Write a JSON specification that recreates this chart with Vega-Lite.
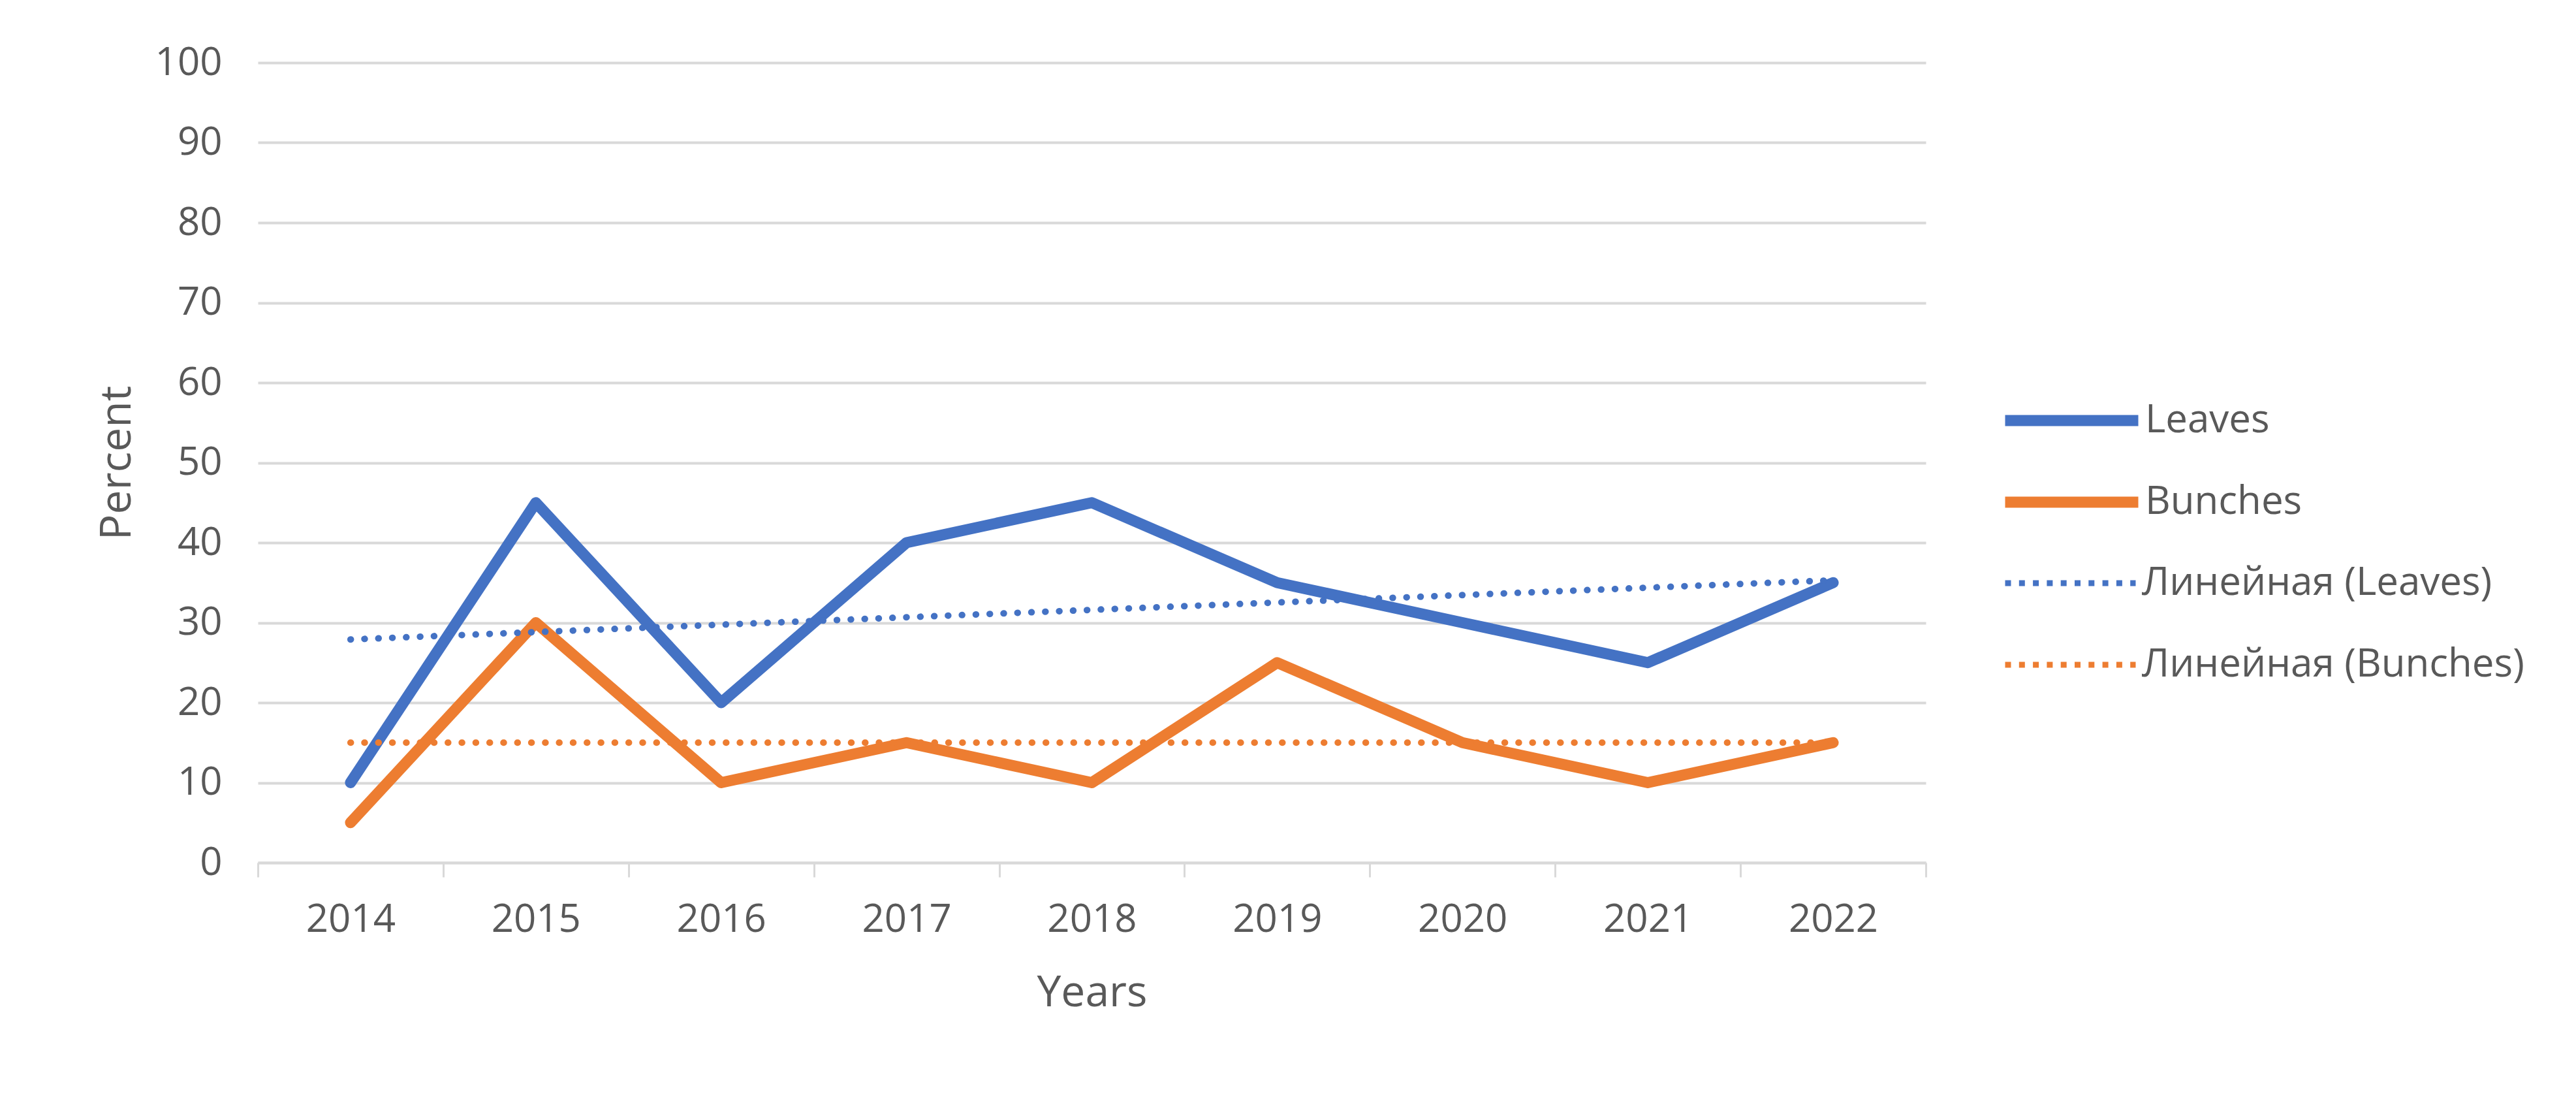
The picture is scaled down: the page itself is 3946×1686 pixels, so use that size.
{
  "$schema": "https://vega.github.io/schema/vega-lite/v6.json",
  "width": 2555,
  "height": 1225,
  "autosize": {"type": "none"},
  "padding": {"left": 395, "top": 96, "right": 996, "bottom": 365},
  "background": "white",
  "datasets": {
    "observed": [
      {"year": 2014, "series": "Leaves", "value": 10},
      {"year": 2015, "series": "Leaves", "value": 45},
      {"year": 2016, "series": "Leaves", "value": 20},
      {"year": 2017, "series": "Leaves", "value": 40},
      {"year": 2018, "series": "Leaves", "value": 45},
      {"year": 2019, "series": "Leaves", "value": 35},
      {"year": 2020, "series": "Leaves", "value": 30},
      {"year": 2021, "series": "Leaves", "value": 25},
      {"year": 2022, "series": "Leaves", "value": 35},
      {"year": 2014, "series": "Bunches", "value": 5},
      {"year": 2015, "series": "Bunches", "value": 30},
      {"year": 2016, "series": "Bunches", "value": 10},
      {"year": 2017, "series": "Bunches", "value": 15},
      {"year": 2018, "series": "Bunches", "value": 10},
      {"year": 2019, "series": "Bunches", "value": 25},
      {"year": 2020, "series": "Bunches", "value": 15},
      {"year": 2021, "series": "Bunches", "value": 10},
      {"year": 2022, "series": "Bunches", "value": 15}
    ],
    "trend": [
      {"year": 2014, "series": "Линейная (Leaves)", "value": 27.9},
      {"year": 2022, "series": "Линейная (Leaves)", "value": 35.3},
      {"year": 2014, "series": "Линейная (Bunches)", "value": 15},
      {"year": 2022, "series": "Линейная (Bunches)", "value": 15}
    ]
  },
  "encoding": {
    "x": {
      "field": "year",
      "type": "quantitative",
      "scale": {"domain": [2013.5, 2022.5], "nice": false, "zero": false},
      "axis": {
        "title": "Years",
        "values": [2013.5, 2014.5, 2015.5, 2016.5, 2017.5, 2018.5, 2019.5, 2020.5, 2021.5, 2022.5],
        "labelExpr": "datum.value > 2022 ? '' : format(datum.value + 0.5, 'd')",
        "labelOffset": 141.9,
        "labelFlush": false,
        "labelOverlap": false,
        "grid": false,
        "tickSize": 22,
        "tickWidth": 3,
        "tickColor": "#D9D9D9",
        "domainColor": "#D9D9D9",
        "domainWidth": 4,
        "labelPadding": 36,
        "titlePadding": 50
      }
    },
    "y": {
      "field": "value",
      "type": "quantitative",
      "scale": {"domain": [0, 100], "nice": false},
      "axis": {
        "title": "Percent",
        "values": [0, 10, 20, 30, 40, 50, 60, 70, 80, 90, 100],
        "grid": true,
        "gridColor": "#D9D9D9",
        "gridWidth": 4,
        "domain": false,
        "ticks": false,
        "labelPadding": 55,
        "titlePadding": 24
      }
    }
  },
  "layer": [
    {
      "data": {"name": "observed"},
      "mark": {"type": "line", "strokeWidth": 17, "strokeCap": "round", "strokeJoin": "round"},
      "encoding": {
        "color": {
          "field": "series",
          "type": "nominal",
          "sort": null,
          "scale": {"domain": ["Leaves", "Bunches"], "range": ["#4472C4", "#ED7D31"]},
          "legend": {
            "title": null,
            "orient": "none",
            "legendX": 2668,
            "legendY": 513,
            "symbolStrokeWidth": 17,
            "symbolSize": 41616,
            "labelOffset": 2
          }
        }
      }
    },
    {
      "data": {"name": "trend"},
      "mark": {"type": "line", "strokeWidth": 10, "strokeCap": "round", "strokeDash": [0.5, 20.8]},
      "encoding": {
        "stroke": {
          "field": "series",
          "type": "nominal",
          "scale": {"domain": ["Линейная (Leaves)", "Линейная (Bunches)"], "range": ["#4472C4", "#ED7D31"]},
          "legend": {
            "title": null,
            "orient": "none",
            "legendX": 2668,
            "legendY": 762,
            "symbolStrokeWidth": 9,
            "symbolDash": [9, 12.3],
            "symbolDashOffset": -4,
            "symbolSize": 41616,
            "labelOffset": 5
          }
        }
      }
    }
  ],
  "resolve": {"scale": {"color": "independent", "stroke": "independent"}},
  "config": {
    "view": {"stroke": null},
    "font": "Open Sans",
    "axis": {
      "labelFont": "Open Sans",
      "labelFontSize": 60,
      "labelColor": "#595959",
      "titleFont": "Open Sans",
      "titleFontSize": 66,
      "titleFontWeight": "normal",
      "titleColor": "#595959"
    },
    "legend": {
      "labelFont": "Open Sans",
      "labelFontSize": 60,
      "labelColor": "#595959",
      "labelLimit": 2000,
      "symbolType": "stroke",
      "clipHeight": 70,
      "rowPadding": 55,
      "padding": 0
    }
  }
}
